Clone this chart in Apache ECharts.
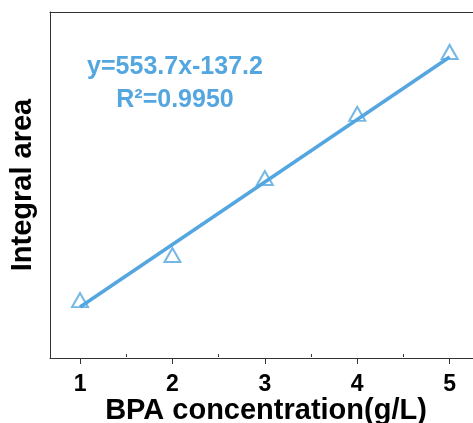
<!DOCTYPE html>
<html>
<head>
<meta charset="utf-8">
<script src="https://cdn.jsdelivr.net/npm/echarts@6/dist/echarts.min.js"></script>
<style>
  html, body { margin: 0; padding: 0; background: #fff; }
  #chart { width: 473px; height: 423px; }
</style>
</head>
<body>
<div id="chart"></div>
<script>
  // ── Data ───────────────────────────────────────────────────────────────
  var concentrations = [1, 2, 3, 4, 5];
  var areas = [478, 877, 1559, 2127, 2676];
  var fitSlope = 553.7;
  var fitIntercept = -137.2;
  var fitRange = [1, 5];
  var tickValues = [1, 2, 3, 4, 5];
  var minorTickValues = [1.5, 2.5, 3.5, 4.5];
  var equationText = 'y=553.7x-137.2';
  var r2Text = 'R\u00b2=0.9950';

  var BLUE = '#53a6df';
  var FRAME = '#333333';
  var FONT = '"Liberation Sans", Arial, sans-serif';
  var X_MIN = 0.675, X_MAX = 5.35;

  var points = concentrations.map(function (x, i) { return [x, areas[i]]; });
  var fitLine = fitRange.map(function (x) { return [x, fitSlope * x + fitIntercept]; });

  var chart = echarts.init(document.getElementById('chart'), null, { renderer: 'canvas' });

  chart.setOption({
    backgroundColor: '#fff',
    animation: false,
    grid: {
      left: 50, top: 12, bottom: 65, right: -9,
      outerBoundsMode: 'none',
      containLabel: false
    },
    xAxis: [{
      type: 'value',
      min: X_MIN, max: X_MAX,
      name: 'BPA concentration(g/L)',
      nameLocation: 'middle',
      nameGap: 38,
      nameMoveOverlap: false,
      nameTextStyle: { color: '#000', fontFamily: FONT, fontWeight: 'bold', fontSize: 29 },
      axisLine: { show: true, onZero: false, lineStyle: { color: FRAME, width: 1 } },
      axisTick: { show: true, inside: false, length: 6, customValues: tickValues, lineStyle: { color: FRAME, width: 1 } },
      axisLabel: { show: true, customValues: tickValues, margin: 15, color: '#000', fontFamily: FONT, fontWeight: 'bold', fontSize: 23 },
      splitLine: { show: false }
    }, {
      // minor ticks
      type: 'value',
      position: 'bottom',
      min: X_MIN, max: X_MAX,
      axisLine: { show: false },
      axisTick: { show: true, inside: false, length: 3, customValues: minorTickValues, lineStyle: { color: FRAME, width: 1 } },
      axisLabel: { show: false },
      splitLine: { show: false }
    }, {
      // top frame line
      type: 'value',
      position: 'top',
      min: X_MIN, max: X_MAX,
      axisLine: { show: true, onZero: false, lineStyle: { color: FRAME, width: 1 } },
      axisTick: { show: false },
      axisLabel: { show: false },
      splitLine: { show: false }
    }],
    yAxis: {
      type: 'value',
      min: -35, max: 3030,
      name: 'Integral area',
      nameLocation: 'middle',
      nameGap: 13,
      nameTextStyle: { color: '#000', fontFamily: FONT, fontWeight: 'bold', fontSize: 29 },
      axisLine: { show: true, lineStyle: { color: FRAME, width: 1 } },
      axisTick: { show: false },
      axisLabel: { show: false },
      splitLine: { show: false }
    },
    graphic: [{
      type: 'text',
      x: 175, y: 67,
      style: {
        text: equationText, fill: BLUE, align: 'center', verticalAlign: 'middle',
        font: 'bold 25px ' + FONT
      }
    }, {
      type: 'text',
      x: 175, y: 100,
      style: {
        text: r2Text, fill: BLUE, align: 'center', verticalAlign: 'middle',
        font: 'bold 25px ' + FONT
      }
    }],
    series: [{
      type: 'line',
      data: fitLine,
      symbol: 'none',
      lineStyle: { color: BLUE, width: 3.5 },
      z: 2
    }, {
      type: 'scatter',
      data: points,
      symbol: 'triangle',
      symbolSize: [16, 14],
      itemStyle: { color: 'rgba(255,255,255,0)', borderColor: BLUE, borderWidth: 2 },
      z: 3
    }]
  });
</script>
</body>
</html>
